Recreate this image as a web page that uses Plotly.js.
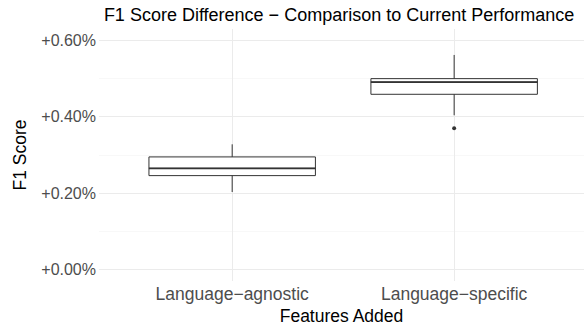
<!DOCTYPE html>
<html>
<head>
<meta charset="utf-8">
<script src="https://cdn.plot.ly/plotly-3.0.1.min.js"></script>
<style>html,body{margin:0;padding:0;background:#fff;}#chart{width:584px;height:326px;}</style>
</head>
<body>
<div id="chart"></div>
<script>
var categories = ['Language\u2212agnostic', 'Language\u2212specific'];
var lowerWhisker = [0.00203, 0.00404];
var q1 = [0.00246, 0.00459];
var median = [0.00265, 0.00491];
var q3 = [0.00295, 0.00500];
var upperWhisker = [0.00328, 0.00562];
var outlierCategory = ['Language\u2212specific'];
var outlierValue = [0.00370];
var yTickVals = [0, 0.002, 0.004, 0.006];

var pos = categories.map(function (c, i) { return i; });
var boxWidth = 0.75;
var font = 'Liberation Sans, Arial, sans-serif';

var traces = [{
  type: 'box',
  x: pos,
  q1: q1,
  median: median,
  q3: q3,
  lowerfence: lowerWhisker,
  upperfence: upperWhisker,
  width: boxWidth,
  boxpoints: false,
  fillcolor: '#ffffff',
  line: { color: '#333333', width: 1 },
  whiskerwidth: 0,
  hoverinfo: 'skip',
  showlegend: false
}];

// thicker median lines (ggplot style)
pos.forEach(function (p, i) {
  traces.push({
    type: 'scatter', mode: 'lines',
    x: [p - boxWidth / 2, p + boxWidth / 2],
    y: [median[i], median[i]],
    line: { color: '#333333', width: 1.8 },
    hoverinfo: 'skip', showlegend: false
  });
});

traces.push({
  type: 'scatter', mode: 'markers',
  x: outlierCategory.map(function (c) { return categories.indexOf(c); }),
  y: outlierValue,
  marker: { color: '#333333', size: 4 },
  hoverinfo: 'skip', showlegend: false
});

var layout = {
  width: 584, height: 326,
  margin: { l: 99, r: 0, t: 28.5, b: 45.2 },
  paper_bgcolor: '#ffffff', plot_bgcolor: '#ffffff',
  font: { family: font, color: '#000000' },
  title: {
    text: 'F1 Score Difference \u2212 Comparison to Current Performance',
    font: { family: font, size: 18, color: '#000000' },
    x: 0.495, xref: 'paper', xanchor: 'center',
    y: 1 - 15 / 326, yref: 'container', yanchor: 'middle'
  },
  xaxis: {
    range: [-0.6, 1.585],
    tickvals: pos, ticktext: categories,
    showgrid: true, gridcolor: '#ebebeb', gridwidth: 1,
    zeroline: false, showline: false, ticks: '',
    tickfont: { family: font, size: 17.5, color: '#4d4d4d' },
    title: { text: 'Features Added', font: { family: font, size: 17.5, color: '#000000' }, standoff: 10 }
  },
  yaxis: {
    range: [-0.0003, 0.0063],
    tickvals: yTickVals,
    tickformat: '+.2%',
    ticklabelstandoff: 2,
    showgrid: true, gridcolor: '#ebebeb', gridwidth: 1,
    minor: { dtick: 0.001, showgrid: true, gridcolor: '#f3f3f3', gridwidth: 0.6, ticks: '' },
    zeroline: false, showline: false, ticks: '',
    tickfont: { family: font, size: 16, color: '#4d4d4d' },
    title: { text: 'F1 Score', font: { family: font, size: 17.5, color: '#000000' }, standoff: 10 }
  }
};

Plotly.newPlot('chart', traces, layout, { displayModeBar: false, staticPlot: true });
</script>
</body>
</html>
